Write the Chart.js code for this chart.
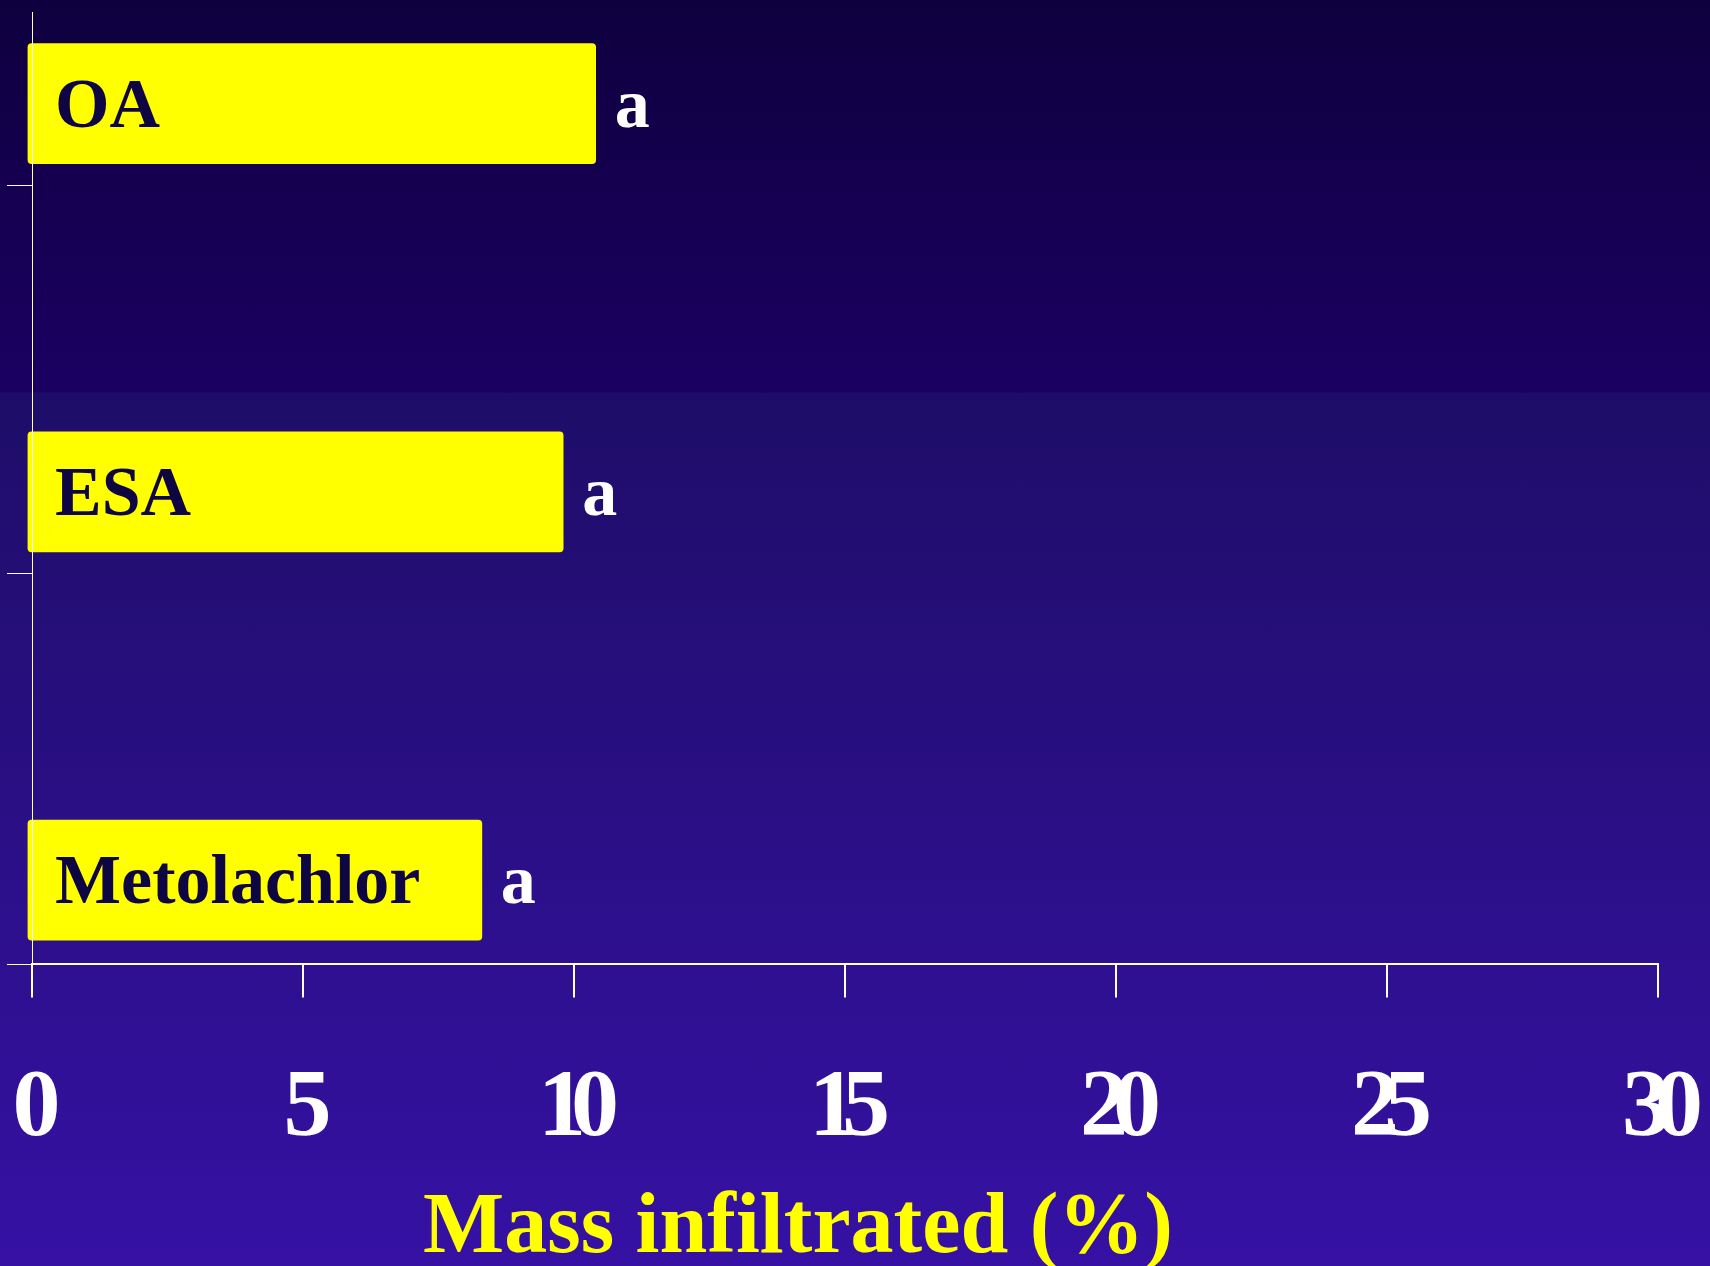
<!DOCTYPE html>
<html>
<head>
<meta charset="utf-8">
<script src="https://cdn.jsdelivr.net/npm/chart.js@4.4.1/dist/chart.umd.min.js"></script>
<style>
  html, body { margin: 0; padding: 0; }
  body {
    width: 1710px;
    height: 1266px;
    overflow: hidden;
    background: linear-gradient(to bottom, #0e003e 0px, #1b0062 392px, #1e0d68 393px, #3611a4 1266px);
  }
  #wrap { position: relative; width: 1710px; height: 1266px; }
</style>
</head>
<body>
<div id="wrap"><canvas id="massChart"></canvas></div>
<script>
var categories = ['OA', 'ESA', 'Metolachlor'];
var massInfiltrated = [10.4, 9.8, 8.3];
var letterGroups = ['a', 'a', 'a'];
var axisTitle = 'Mass infiltrated (%)';
// y axis marks sit a little below each bar, last one on the x axis
var yTickMarks = [0.21, 1.21, 2.217];

Chart.defaults.font.family = '"Liberation Serif", "Times New Roman", serif';

var barLabels = {
    id: 'barLabels',
    afterDatasetsDraw: function (chart) {
        var ctx = chart.ctx;
        var meta = chart.getDatasetMeta(0);
        ctx.save();
        ctx.font = 'bold 70px "Liberation Serif"';
        ctx.textBaseline = 'alphabetic';
        ctx.textAlign = 'left';
        meta.data.forEach(function (bar, i) {
            ctx.fillStyle = '#0d0642';
            ctx.fillText(categories[i], chart.chartArea.left + 23, bar.y + 23);
            ctx.fillStyle = '#ffffff';
            ctx.fillText(letterGroups[i], bar.x + 19, bar.y + 23);
        });
        ctx.restore();
        // tick labels of the x axis are drawn squeezed, like the original slide
        ctx.letterSpacing = '-15px';
    },
    afterDraw: function (chart) {
        var ctx = chart.ctx;
        ctx.letterSpacing = '0px';
        ctx.save();
        ctx.font = 'bold 86px "Liberation Serif"';
        ctx.fillStyle = '#ffff00';
        ctx.textAlign = 'center';
        ctx.textBaseline = 'alphabetic';
        ctx.fillText(axisTitle, 798, 1252);
        ctx.restore();
    }
};

var ctx = document.getElementById('massChart').getContext('2d');
window.massChart = new Chart(ctx, {
    type: 'bar',
    data: {
        datasets: [{
            data: categories.map(function (c, i) { return { x: massInfiltrated[i], y: i }; }),
            backgroundColor: '#ffff00',
            base: -0.075, // bars poke out a few px left of the axis line
            clip: 8,
            borderRadius: 4,
            borderSkipped: false,
            barThickness: 120
        }]
    },
    options: {
        indexAxis: 'y',
        responsive: true,
        maintainAspectRatio: false,
        animation: false,
        layout: {
            padding: { top: 12, left: 7, right: 52, bottom: 43 }
        },
        plugins: {
            legend: { display: false },
            tooltip: { enabled: false }
        },
        scales: {
            x: {
                type: 'linear',
                min: 0,
                max: 30,
                ticks: {
                    stepSize: 5,
                    color: '#ffffff',
                    padding: 0,
                    labelOffset: -3,
                    z: 1,
                    font: { size: 96, weight: 'bold', lineHeight: 2.35 }
                },
                grid: {
                    drawOnChartArea: false,
                    tickLength: 33,
                    color: '#ffffff',
                    lineWidth: 2
                },
                border: { color: '#ffffff', width: 2 }
            },
            y: {
                type: 'linear',
                reverse: true,
                offset: false,
                min: -0.236,
                max: 2.217,
                afterBuildTicks: function (scale) {
                    scale.ticks = yTickMarks.map(function (v) { return { value: v }; });
                },
                ticks: { display: false },
                grid: {
                    offset: false,
                    drawOnChartArea: false,
                    tickLength: 25,
                    color: '#ffffff',
                    lineWidth: 1
                },
                border: { color: '#ffffff', width: 1, z: 1 }
            }
        }
    },
    plugins: [barLabels]
});
</script>
</body>
</html>
